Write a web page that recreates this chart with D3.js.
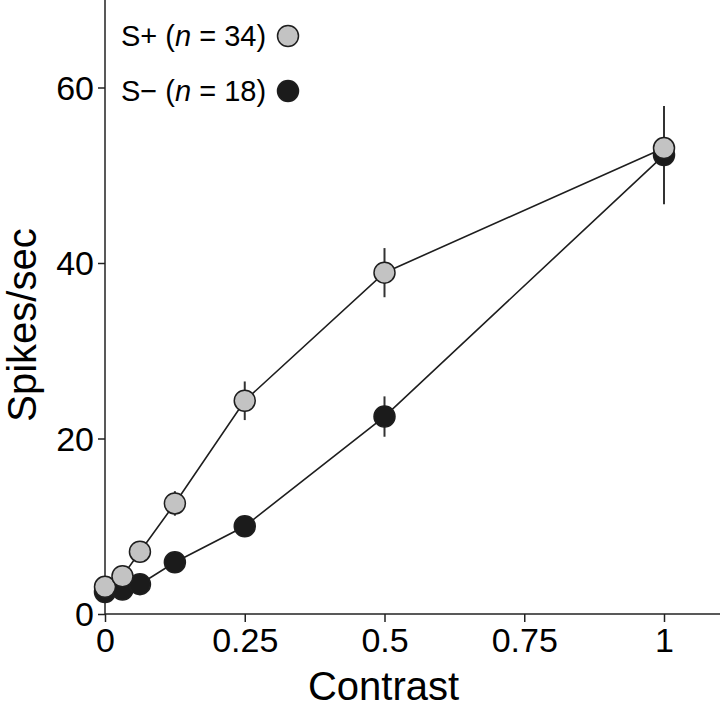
<!DOCTYPE html>
<html><head><meta charset="utf-8">
<script src="https://cdn.jsdelivr.net/npm/d3@7"></script>
<style>body{margin:0;background:#fff}svg{display:block}</style>
</head><body>
<script>
const contrasts = [0, 0.03125, 0.0625, 0.125, 0.25, 0.5, 1];
const sPlusMean = [3.1, 4.3, 7.1, 12.6, 24.3, 38.9, 53.1];
const sPlusErr  = [0.6, 0.7, 0.9, 1.4, 2.2, 2.8, 3.5];
const sMinusMean = [2.5, 2.8, 3.4, 5.9, 10.0, 22.5, 52.3];
const sMinusErr  = [0.4, 0.5, 0.6, 0.8, 1.0, 2.3, 5.6];
const xTicks = [0, 0.25, 0.5, 0.75, 1];
const xTickLabels = ["0", "0.25", "0.5", "0.75", "1"];
const yTicks = [0, 20, 40, 60];
const seriesNames = ["S+ (n = 34)", "S\u2212 (n = 18)"];

const W = 720, H = 709;
const font = "'Liberation Sans', Arial, Helvetica, sans-serif";
const svg = d3.select("body").append("svg").attr("width", W).attr("height", H);

const x = d3.scaleLinear().domain([0, 1]).range([105, 664]);
const y = d3.scaleLinear().domain([0, 60]).range([614, 87.5]);

const series = [
  {name: seriesNames[1], mean: sMinusMean, err: sMinusErr, fill: "#1b1b1b"},
  {name: seriesNames[0], mean: sPlusMean, err: sPlusErr, fill: "#c3c3c3"}
];

// axes
const xAxis = svg.append("g").attr("transform", `translate(0,${y(0)})`)
  .call(d3.axisBottom(x).tickValues(xTicks).tickFormat((d,i)=>xTickLabels[i]).tickSize(8).tickSizeOuter(0).tickPadding(6));
xAxis.select(".domain").remove();
xAxis.append("line").attr("x1", x(0)).attr("x2", W).attr("stroke", "#222").attr("stroke-width", 1.5);
xAxis.selectAll(".tick line").attr("stroke", "#222").attr("stroke-width", 1.5);
xAxis.selectAll(".tick text").attr("font-family", font).attr("font-size", 34).attr("fill", "#000");

const yAxis = svg.append("g").attr("transform", `translate(${x(0)},0)`)
  .call(d3.axisLeft(y).tickValues(yTicks).tickFormat(d3.format("d")).tickSize(7).tickSizeOuter(0).tickPadding(4));
yAxis.select(".domain").remove();
yAxis.append("line").attr("y1", 0).attr("y2", y(0)).attr("stroke", "#222").attr("stroke-width", 1.5);
yAxis.selectAll(".tick line").attr("stroke", "#222").attr("stroke-width", 1.5);
yAxis.selectAll(".tick text").attr("font-family", font).attr("font-size", 34).attr("fill", "#000").attr("dy", "0.35em");

// titles
svg.append("text").attr("x", x(0.5) - 1).attr("y", 700).attr("text-anchor", "middle")
  .attr("font-family", font).attr("font-size", 40).text("Contrast");
svg.append("text").attr("transform", `translate(36,325) rotate(-90)`).attr("text-anchor", "middle")
  .attr("font-family", font).attr("font-size", 40).text("Spikes/sec");

// lines
const line = d3.line().x((d,i)=>x(contrasts[i])).y(d=>y(d));
series.forEach(s => {
  svg.append("path").attr("d", line(s.mean)).attr("fill", "none").attr("stroke", "#1e1e1e").attr("stroke-width", 1.6);
});
// error bars
series.forEach(s => {
  svg.append("g").selectAll("line").data(s.mean).join("line")
    .attr("x1", (d,i)=>x(contrasts[i])).attr("x2", (d,i)=>x(contrasts[i]))
    .attr("y1", (d,i)=>y(d + s.err[i])).attr("y2", (d,i)=>y(d - s.err[i]))
    .attr("stroke", "#333").attr("stroke-width", 2);
});
// markers
series.forEach(s => {
  svg.append("g").selectAll("circle").data(s.mean).join("circle")
    .attr("cx", (d,i)=>x(contrasts[i])).attr("cy", d=>y(d)).attr("r", 10.5)
    .attr("fill", s.fill).attr("stroke", "#1e1e1e").attr("stroke-width", 1.5);
});

// legend
const legend = [
  {label: seriesNames[0], fill: "#c3c3c3", y: 36},
  {label: seriesNames[1], fill: "#1b1b1b", y: 91}
];
legend.forEach(l => {
  const t = svg.append("text").attr("x", 121).attr("y", l.y + 10).attr("font-family", font).attr("font-size", 29);
  const parts = l.label.split("n");
  t.append("tspan").text(parts[0]);
  t.append("tspan").attr("font-style", "italic").text("n");
  t.append("tspan").text(parts[1]);
  svg.append("circle").attr("cx", 288).attr("cy", l.y).attr("r", 10.5)
    .attr("fill", l.fill).attr("stroke", "#1e1e1e").attr("stroke-width", 1.5);
});
</script>
</body></html>
